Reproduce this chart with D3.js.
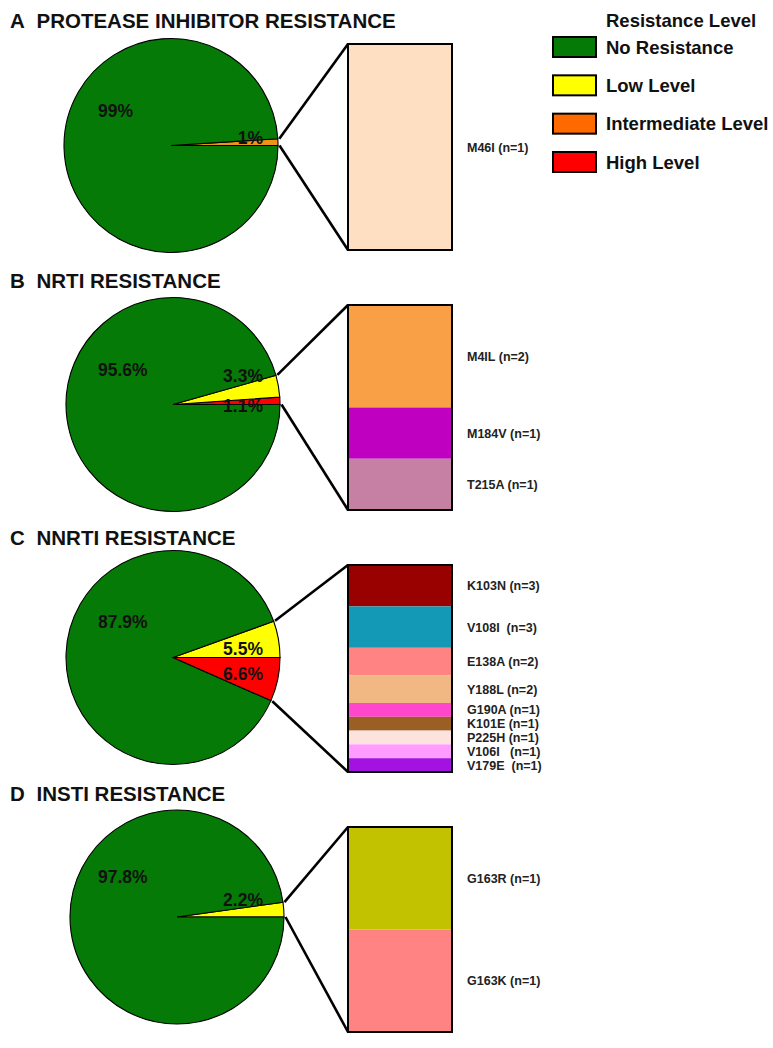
<!DOCTYPE html>
<html>
<head>
<meta charset="utf-8">
<script src="https://cdn.jsdelivr.net/npm/d3@7"></script>
<style>
  body { margin: 0; background: #fff; }
  svg { display: block; font-family: "Liberation Sans", Arial, sans-serif; font-weight: bold; }
  text { white-space: pre; }
</style>
</head>
<body>
<svg id="chart" width="773" height="1048"></svg>
<script>
// Resistance levels (legend)
const levels = ["No Resistance", "Low Level", "Intermediate Level", "High Level"];

// Panels
const panelLetters = ["A", "B", "C", "D"];
const panelTitles = ["PROTEASE INHIBITOR RESISTANCE", "NRTI RESISTANCE", "NNRTI RESISTANCE", "INSTI RESISTANCE"];

// Pie slices, in order counter-clockwise from 3 o'clock
const pieLevels = [
  ["Intermediate Level", "No Resistance"],
  ["High Level", "Low Level", "No Resistance"],
  ["Low Level", "No Resistance", "High Level"],
  ["Low Level", "No Resistance"]
];
const pieValues = [
  [1, 99],
  [1.1, 3.3, 95.6],
  [5.5, 87.9, 6.6],
  [2.2, 97.8]
];
const pieLabels = [
  ["1%", "99%"],
  ["1.1%", "3.3%", "95.6%"],
  ["5.5%", "87.9%", "6.6%"],
  ["2.2%", "97.8%"]
];

// Mutations shown in the zoom boxes
const mutationNames = [
  ["M46I (n=1)"],
  ["M4IL (n=2)", "M184V (n=1)", "T215A (n=1)"],
  ["K103N (n=3)", "V108I  (n=3)", "E138A (n=2)", "Y188L (n=2)", "G190A (n=1)",
   "K101E (n=1)", "P225H (n=1)", "V106I   (n=1)", "V179E  (n=1)"],
  ["G163R (n=1)", "G163K (n=1)"]
];
const mutationCounts = [
  [1],
  [2, 1, 1],
  [3, 3, 2, 2, 1, 1, 1, 1, 1],
  [1, 1]
];

// styles
const levelColor = d3.scaleOrdinal()
  .domain(levels)
  .range(["#067a06", "#ffff00", "#ff6a00", "#ff0000"]);
const pieColor = d3.scaleOrdinal()
  .domain(levels)
  .range(["#067a06", "#ffff00", "#f39219", "#ff0000"]);
const mutationColors = [
  ["#ffdfc2"],
  ["#f9a046", "#c000c0", "#c580a3"],
  ["#990000", "#1399b6", "#ff8383", "#f1b883", "#ff46cc", "#9a5f24", "#fde2de", "#ff9cff", "#a312e0"],
  ["#c2c200", "#ff8383"]
];

// layout per panel (label offsets are relative to the pie centre)
const layout = [
  { titleY: 28,  cx: 171, cy: 145.5, boxTop: 44,  boxBottom: 250,  bigDy: -34.5, smallDy: [-7.5] },
  { titleY: 288, cx: 173, cy: 404.5, boxTop: 305, boxBottom: 510,  bigDy: -34.5, smallDy: [1.5, -28.5] },
  { titleY: 545, cx: 173, cy: 657.5, boxTop: 565, boxBottom: 772,  bigDy: -36,   smallDy: [-8.5, 16.5] },
  { titleY: 801, cx: 177, cy: 917,   boxTop: 827, boxBottom: 1032, bigDy: -40.5, smallDy: [-17] }
];
const radius = 107;
const boxX = 348;
const boxW = 104;
const labelX = 467;

const svg = d3.select("#chart");

const pie = d3.pie()
  .sort(null)
  .startAngle(Math.PI / 2)
  .endAngle(Math.PI / 2 - 2 * Math.PI);

const arc = d3.arc().innerRadius(0).outerRadius(radius);

const pointAt = (angle, r) => [Math.sin(angle) * r, -Math.cos(angle) * r];

panelLetters.forEach((letter, i) => {
  const L = layout[i];
  const g = svg.append("g");

  // title
  g.append("text")
    .attr("x", 10)
    .attr("y", L.titleY)
    .attr("font-size", 20.5)
    .attr("fill", "#111")
    .text(letter);
  g.append("text")
    .attr("x", 36.5)
    .attr("y", L.titleY)
    .attr("font-size", 20.5)
    .attr("fill", "#111")
    .text(panelTitles[i]);

  // pie
  const slices = pie(pieValues[i]);
  const pg = g.append("g").attr("transform", `translate(${L.cx},${L.cy})`);
  pg.selectAll("path")
    .data(slices)
    .join("path")
    .attr("d", arc)
    .attr("fill", (d, j) => pieColor(pieLevels[i][j]))
    .attr("stroke", "#000")
    .attr("stroke-width", 1.1);

  // slice labels
  let small = 0;
  slices.forEach((d, j) => {
    const isMain = pieLevels[i][j] === "No Resistance";
    const t = pg.append("text")
      .attr("font-size", 17.5)
      .attr("fill", "#111")
      .text(pieLabels[i][j]);
    if (isMain) {
      t.attr("x", 98 - L.cx).attr("y", L.bigDy + 6);
    } else {
      t.attr("x", 263 - L.cx)
        .attr("text-anchor", "end")
        .attr("y", L.smallDy[small] + 6);
      small++;
    }
  });

  // connector lines, from the edges of the resistance slices to the box
  const main = slices[pieLevels[i].indexOf("No Resistance")];
  const top = pointAt(main.startAngle, radius + 1.5);
  const bottom = pointAt(main.endAngle, radius + 1.5);
  g.append("line")
    .attr("x1", L.cx + top[0]).attr("y1", L.cy + top[1])
    .attr("x2", boxX).attr("y2", L.boxTop)
    .attr("stroke", "#000").attr("stroke-width", 2.6);
  g.append("line")
    .attr("x1", L.cx + bottom[0]).attr("y1", L.cy + bottom[1])
    .attr("x2", boxX).attr("y2", L.boxBottom)
    .attr("stroke", "#000").attr("stroke-width", 2.6);

  // stacked mutation box
  const counts = mutationCounts[i];
  const y = d3.scaleLinear()
    .domain([0, d3.sum(counts)])
    .range([L.boxTop, L.boxBottom]);
  const cum = d3.cumsum(counts);
  const segs = counts.map((c, j) => ({ name: mutationNames[i][j], y0: cum[j] - c, y1: cum[j], color: mutationColors[i][j] }));

  g.selectAll("rect.seg")
    .data(segs)
    .join("rect")
    .attr("class", "seg")
    .attr("x", boxX)
    .attr("width", boxW)
    .attr("y", d => y(d.y0))
    .attr("height", d => y(d.y1) - y(d.y0))
    .attr("fill", d => d.color);
  g.append("rect")
    .attr("x", boxX).attr("y", L.boxTop)
    .attr("width", boxW).attr("height", L.boxBottom - L.boxTop)
    .attr("fill", "none").attr("stroke", "#000").attr("stroke-width", 2);

  g.selectAll("text.mut")
    .data(segs)
    .join("text")
    .attr("class", "mut")
    .attr("x", labelX)
    .attr("y", d => (y(d.y0) + y(d.y1)) / 2 + 4.5)
    .attr("font-size", 12.5)
    .attr("fill", "#222")
    .text(d => d.name);
});

// legend
const lg = svg.append("g");
lg.append("text")
  .attr("x", 606).attr("y", 26.5)
  .attr("font-size", 18.5)
  .attr("fill", "#111")
  .text("Resistance Level");
const ly = d3.scalePoint().domain(levels).range([37, 152]);
lg.selectAll("rect")
  .data(levels)
  .join("rect")
  .attr("x", 553).attr("y", d => ly(d))
  .attr("width", 43).attr("height", 20)
  .attr("fill", d => levelColor(d))
  .attr("stroke", "#000").attr("stroke-width", 2);
lg.selectAll("text.lev")
  .data(levels)
  .join("text")
  .attr("class", "lev")
  .attr("x", 606).attr("y", d => ly(d) + 16.5)
  .attr("font-size", 18.5)
  .attr("fill", "#111")
  .text(d => d);
</script>
</body>
</html>
